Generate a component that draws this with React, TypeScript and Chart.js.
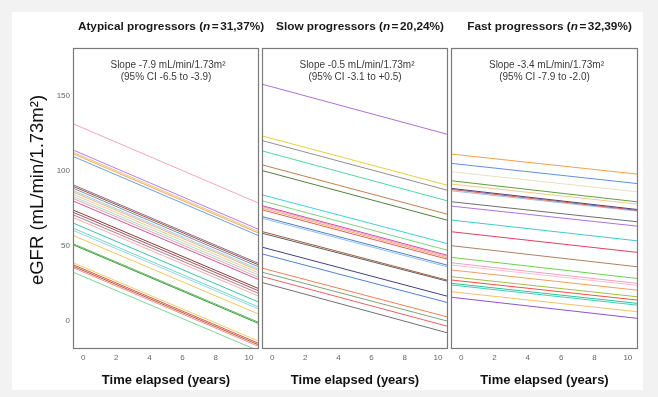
import React, { useEffect, useRef } from "react";
import { Chart, registerables } from "chart.js";

Chart.register(...registerables);

const FONT = '"Liberation Sans", Arial, sans-serif';

// Axis ranges and ticks
const TIME_START = -0.55;
const TIME_END = 10.55;
const Y_MIN = -18.3;
const Y_MAX = 181.8;
const X_TICKS = [0, 2, 4, 6, 8, 10];
const Y_TICKS = [0, 50, 100, 150];

// Panel texts
const PANEL_NAMES = ["Atypical progressors", "Slow progressors", "Fast progressors"];
const PANEL_SHARES = ["31,37%", "20,24%", "32,39%"];
const SLOPE_TEXTS = [
  "Slope -7.9 mL/min/1.73m\u00B2",
  "Slope -0.5 mL/min/1.73m\u00B2",
  "Slope -3.4 mL/min/1.73m\u00B2",
];
const CI_TEXTS = ["(95% CI -6.5 to -3.9)", "(95% CI -3.1 to +0.5)", "(95% CI -7.9 to -2.0)"];
const X_TITLE = "Time elapsed (years)";
const Y_TITLE = "eGFR (mL/min/1.73m\u00B2)";

// eGFR at start and end of the plotted time span, one entry per patient
const ATYPICAL_START = [131, 113.5, 112, 111, 109.2, 90.3, 89.3, 88, 86.5, 85.5, 84, 82.5, 81.2, 79.5, 73.5, 72, 70.3, 68.5, 64.8, 61.4, 59.9, 56.5, 51, 50.3, 38.3, 37, 36, 35, 32];
const ATYPICAL_END = [78.5, 61, 59.5, 58.5, 56.8, 38.3, 37.3, 36, 34.5, 33.5, 32, 30.5, 29, 27.5, 21.5, 20, 18.3, 16.5, 12.5, 9.2, 7.9, 4.5, -1, -1.8, -13.5, -15, -16, -17, -20];
const ATYPICAL_COLORS = ["#f4a6b7", "#b57bf2", "#f2c46a", "#f0a860", "#6a9ee0", "#8c6d9e", "#a0522d", "#7d8fb0", "#9fd0e8", "#f5b27a", "#e8c9a0", "#a8d8c8", "#f2a0b0", "#d05a9a", "#8b3a3a", "#a0524a", "#b07aa0", "#f2b0a0", "#40c0a8", "#70d8c0", "#a0d0e8", "#f0c860", "#5cb85c", "#3a9a3a", "#f0d060", "#e05050", "#b06040", "#f09090", "#80d890"];

const SLOW_START = [157.5, 123, 119.9, 113, 103.7, 99.9, 83.7, 79.7, 76.5, 75.8, 74.8, 73.7, 69.2, 68.1, 59.2, 58.1, 48.8, 44.3, 34.8, 32.1, 29.2, 25.2];
const SLOW_END = [124.3, 90.3, 87, 79.9, 71, 67, 51.4, 47, 43.6, 42.8, 42, 41, 37, 35.9, 27, 26.3, 16.3, 12.1, 2.5, -0.3, -3.7, -8.1];
const SLOW_COLORS = ["#b070d0", "#e8d040", "#909090", "#50d8a0", "#c08050", "#508040", "#40d0d8", "#80d080", "#d050a0", "#f0a0c0", "#f0b060", "#e06060", "#5080c0", "#90c0f0", "#a06040", "#606060", "#404080", "#5080d0", "#f08050", "#80a080", "#f06060", "#707070"];

const FAST_START = [111, 104.8, 99.2, 93.2, 91, 88.1, 87.4, 86.5, 79.2, 76.3, 67, 59.2, 49.9, 42.1, 38.5, 37, 33.7, 29.2, 27, 24.8, 23.7, 19.2, 15.5];
const FAST_END = [97.7, 91.4, 85.9, 79.2, 77.7, 74.1, 73.5, 73, 65.9, 63, 53.2, 45.5, 35.9, 28.1, 24.8, 23.5, 20.3, 15.9, 13.7, 11.5, 10.3, 5.9, 1.5];
const FAST_COLORS = ["#f0a050", "#6090e0", "#e8e0c0", "#60a040", "#f0c890", "#504070", "#d06060", "#a0c0e0", "#707070", "#b070e0", "#40c8d0", "#e04060", "#b08060", "#70d050", "#f0a0c0", "#f8c0d0", "#f0a060", "#a0c040", "#f05040", "#30c0a0", "#40d0b0", "#f0c070", "#9050d0"];

const PANELS = [
  { start: ATYPICAL_START, end: ATYPICAL_END, colors: ATYPICAL_COLORS, left: 74, right: 258, showY: true },
  { start: SLOW_START, end: SLOW_END, colors: SLOW_COLORS, left: 263, right: 447, showY: false },
  { start: FAST_START, end: FAST_END, colors: FAST_COLORS, left: 452, right: 637, showY: false },
];

const W = 658;
const H = 397;
const TOP = 48;
const BOTTOM = 348;
const X_AXIS_H = 40;

function drawPanelTitle(ctx: CanvasRenderingContext2D, cx: number, y: number, name: string, share: string) {
  const bold = `bold 11.8px ${FONT}`;
  const ital = `italic bold 11.8px ${FONT}`;
  const parts: [string, string, number][] = [
    [name + " (", bold, 0],
    ["n", ital, 1.5],
    ["=", bold, 1.5],
    [share + ")", bold, 0],
  ];
  let total = 0;
  for (const [t, f, gap] of parts) {
    ctx.font = f;
    total += ctx.measureText(t).width + gap;
  }
  let x = cx - total / 2;
  ctx.textAlign = "left";
  ctx.textBaseline = "middle";
  ctx.fillStyle = "#1a1a1a";
  for (const [t, f, gap] of parts) {
    ctx.font = f;
    ctx.fillText(t, x, y);
    x += ctx.measureText(t).width + gap;
  }
}

function Panel({ index }: { index: number }) {
  const ref = useRef<HTMLCanvasElement | null>(null);
  useEffect(() => {
    const p = PANELS[index];
    const datasets = p.start.map((s, i) => ({
      data: [
        { x: TIME_START, y: s },
        { x: TIME_END, y: p.end[i] },
      ],
      borderColor: p.colors[i],
      borderWidth: 1,
      pointRadius: 0,
      fill: false,
      tension: 0,
    }));
    const decor = {
      id: "decor" + index,
      afterDatasetsDraw(chart: any) {
        const { ctx, chartArea } = chart;
        ctx.save();
        ctx.strokeStyle = "#7a7a7a";
        ctx.lineWidth = 1.2;
        ctx.strokeRect(
          Math.round(chartArea.left) - 0.5,
          Math.round(chartArea.top) + 0.5,
          Math.round(chartArea.right - chartArea.left) + 1,
          Math.round(chartArea.bottom - chartArea.top)
        );
        ctx.restore();
      },
      afterDraw(chart: any) {
        const { ctx, chartArea } = chart;
        const cx = (chartArea.left + chartArea.right) / 2;
        ctx.save();
        drawPanelTitle(ctx, cx + 5, 27, PANEL_NAMES[index], PANEL_SHARES[index]);
        ctx.font = `10px ${FONT}`;
        ctx.fillStyle = "#3a3a3a";
        ctx.textAlign = "center";
        ctx.textBaseline = "middle";
        ctx.fillText(SLOPE_TEXTS[index], cx + 2, 65);
        ctx.fillText(CI_TEXTS[index], cx, 77);
        if (p.showY) {
          ctx.translate(38, 190);
          ctx.rotate(-Math.PI / 2);
          ctx.font = `18.5px ${FONT}`;
          ctx.fillStyle = "#111";
          ctx.fillText(Y_TITLE, 0, 0);
        }
        ctx.restore();
      },
    };
    const chart = new Chart(ref.current as HTMLCanvasElement, {
      type: "line",
      data: { datasets } as any,
      options: {
        animation: false,
        responsive: false,
        devicePixelRatio: 1,
        layout: {
          padding: {
            left: p.showY ? 0 : p.left,
            right: W - p.right,
            top: TOP,
            bottom: H - BOTTOM - X_AXIS_H,
          },
        },
        plugins: {
          legend: { display: false },
          tooltip: { enabled: false },
          title: { display: false },
        },
        scales: {
          x: {
            type: "linear",
            min: TIME_START,
            max: TIME_END,
            afterBuildTicks: (s: any) => {
              s.ticks = X_TICKS.map((v) => ({ value: v }));
            },
            afterFit: (s: any) => {
              s.height = X_AXIS_H;
            },
            grid: { display: false, drawTicks: false },
            border: { display: false },
            ticks: {
              font: { size: 8, family: FONT },
              color: "#666",
              padding: 5,
              maxRotation: 0,
              autoSkip: false,
            },
            title: {
              display: true,
              text: X_TITLE,
              font: { size: 13, weight: "bold", family: FONT },
              color: "#111",
              padding: 0,
            },
          },
          y: {
            type: "linear",
            display: p.showY,
            min: Y_MIN,
            max: Y_MAX,
            afterBuildTicks: (s: any) => {
              s.ticks = Y_TICKS.map((v) => ({ value: v }));
            },
            afterFit: (s: any) => {
              s.width = p.showY ? p.left : 0;
            },
            grid: { display: false, drawTicks: false },
            border: { display: false },
            ticks: {
              font: { size: 8, family: FONT },
              color: "#666",
              padding: 4,
            },
          },
        },
      } as any,
      plugins: [decor],
    });
    return () => chart.destroy();
  }, [index]);
  return (
    <canvas
      ref={ref}
      width={W}
      height={H}
      style={{ position: "absolute", left: 0, top: 0, width: W, height: H }}
    />
  );
}

export default function App() {
  return (
    <div style={{ position: "fixed", left: 0, top: 0, width: W, height: H, background: "#f2f2f2", overflow: "hidden" }}>
      <div style={{ position: "absolute", left: 12, top: 12, width: 631, height: 378, background: "#fff" }} />
      <Panel index={0} />
      <Panel index={1} />
      <Panel index={2} />
    </div>
  );
}
